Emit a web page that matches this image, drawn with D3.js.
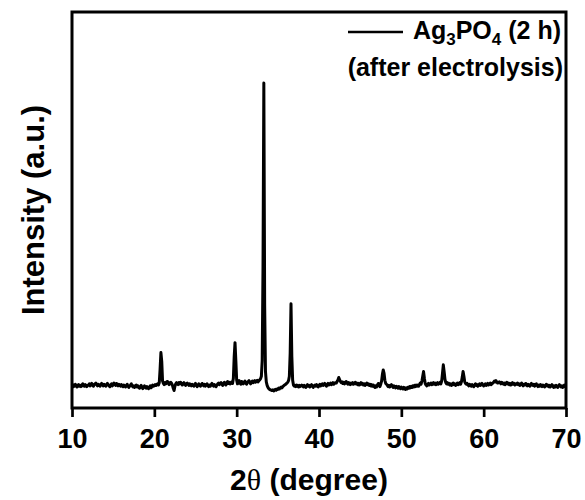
<!DOCTYPE html>
<html>
<head>
<meta charset="utf-8">
<script src="https://cdn.jsdelivr.net/npm/d3@7/dist/d3.min.js"></script>
<style>
  body { margin: 0; background: #fff; }
  svg text { font-family: "Liberation Sans", Arial, sans-serif; font-weight: bold; fill: #000; }
</style>
</head>
<body>
<svg id="chart" width="585" height="500"></svg>
<script>
// XRD scan of Ag3PO4 (2 h) after electrolysis, 10–70° 2θ in 0.1° steps
const scanStart = 10;
const scanStep = 0.1;
const intensity = [
  // 10.0 – 11.9
  56, 59, 54, 57, 60, 55, 53, 57, 59, 55, 57, 54, 58, 61, 56, 55, 59, 57, 54, 57,
  // 12.0 – 13.9
  58, 61, 56, 59, 62, 57, 55, 59, 61, 63, 59, 56, 60, 58, 55, 59, 62, 58, 56, 60,
  // 14.0 – 15.9
  58, 55, 59, 62, 59, 56, 54, 58, 61, 56, 59, 63, 60, 57, 62, 59, 56, 60, 58, 55,
  // 16.0 – 17.9
  59, 56, 54, 58, 55, 53, 57, 60, 55, 52, 55, 58, 61, 56, 53, 56, 52, 55, 58, 53,
  // 18.0 – 19.9
  56, 52, 50, 54, 57, 52, 49, 52, 56, 53, 50, 54, 51, 49, 53, 56, 51, 54, 58, 55,
  // 20.0 – 21.9
  56, 59, 57, 60, 61, 58, 64, 98, 140, 118, 68, 62, 59, 64, 61, 66, 67, 62, 59, 64,
  // 22.0 – 23.9
  65, 62, 57, 50, 44, 55, 61, 64, 62, 59, 64, 61, 65, 62, 58, 61, 64, 60, 57, 61,
  // 24.0 – 25.9
  63, 60, 57, 61, 59, 56, 60, 58, 55, 59, 62, 58, 54, 57, 61, 58, 55, 58, 62, 59,
  // 26.0 – 27.9
  56, 60, 55, 58, 61, 57, 54, 58, 55, 59, 62, 58, 55, 59, 56, 54, 58, 61, 63, 59,
  // 28.0 – 29.9
  62, 64, 60, 57, 62, 65, 61, 58, 63, 67, 62, 65, 61, 63, 66, 62, 75, 130, 165, 120,
  // 30.0 – 31.9
  70, 61, 64, 69, 63, 60, 67, 64, 61, 65, 68, 63, 60, 64, 67, 69, 64, 61, 65, 68,
  // 32.0 – 33.9
  64, 67, 69, 65, 68, 70, 66, 69, 71, 74, 80, 120, 357, 821, 260, 92, 66, 57, 52, 49,
  // 34.0 – 35.9
  47, 46, 45, 44, 46, 43, 45, 47, 45, 48, 47, 50, 48, 51, 53, 51, 54, 56, 58, 59,
  // 36.0 – 37.9
  61, 63, 65, 69, 80, 139, 263, 130, 70, 58, 55, 57, 54, 58, 56, 53, 57, 54, 56, 58,
  // 38.0 – 39.9
  56, 53, 57, 55, 52, 56, 59, 55, 57, 53, 56, 59, 55, 52, 56, 58, 55, 59, 56, 53,
  // 40.0 – 41.9
  57, 60, 56, 58, 61, 57, 59, 62, 58, 55, 59, 62, 58, 60, 63, 59, 61, 64, 60, 62,
  // 42.0 – 43.9
  64, 63, 67, 71, 77, 72, 67, 64, 66, 62, 65, 61, 64, 67, 63, 60, 64, 62, 59, 63,
  // 44.0 – 45.9
  61, 64, 60, 62, 65, 61, 63, 59, 62, 58, 61, 64, 60, 62, 58, 61, 57, 60, 63, 59,
  // 46.0 – 47.9
  61, 57, 60, 56, 59, 55, 58, 54, 52, 56, 53, 58, 62, 57, 54, 60, 68, 85, 96, 88,
  // 48.0 – 49.9
  70, 62, 60, 57, 54, 57, 53, 56, 59, 55, 52, 56, 53, 51, 55, 52, 50, 54, 51, 49,
  // 50.0 – 51.9
  53, 50, 48, 52, 49, 47, 51, 48, 52, 50, 54, 51, 55, 52, 56, 53, 57, 54, 58, 55,
  // 52.0 – 53.9
  58, 55, 59, 63, 60, 68, 80, 92, 75, 62, 58, 56, 59, 62, 58, 60, 63, 59, 61, 64,
  // 54.0 – 55.9
  60, 63, 59, 61, 64, 60, 62, 65, 61, 68, 88, 109, 92, 72, 64, 61, 64, 60, 62, 58,
  // 56.0 – 57.9
  61, 57, 60, 63, 59, 61, 57, 60, 63, 59, 61, 64, 60, 66, 78, 92, 80, 66, 62, 60,
  // 58.0 – 59.9
  62, 58, 56, 60, 57, 55, 59, 56, 54, 58, 61, 57, 59, 55, 58, 61, 57, 59, 62, 58,
  // 60.0 – 61.9
  56, 58, 61, 57, 59, 62, 58, 60, 63, 59, 61, 63, 65, 68, 66, 69, 65, 63, 64, 66,
  // 62.0 – 63.9
  64, 61, 65, 63, 60, 63, 59, 62, 65, 61, 63, 59, 62, 58, 61, 64, 60, 62, 58, 61,
  // 64.0 – 65.9
  60, 63, 59, 61, 57, 60, 63, 59, 56, 60, 58, 62, 59, 56, 60, 58, 55, 59, 62, 58,
  // 66.0 – 67.9
  57, 60, 55, 58, 61, 57, 54, 58, 55, 59, 57, 54, 58, 56, 53, 57, 60, 56, 58, 54,
  // 68.0 – 69.9
  57, 53, 56, 59, 55, 52, 56, 53, 57, 55, 52, 56, 59, 55, 53, 56, 52, 55, 58, 54,
  // 70.0
  56
];

const xTicks = [10, 20, 30, 40, 50, 60, 70];
const xDomain = [10, 70];
const yDomain = [0, 1000];

const svg = d3.select("#chart");
const margin = { left: 72, right: 19, top: 12, bottom: 92 };
const W = 585, H = 500;
const plotW = W - margin.left - margin.right;
const plotH = H - margin.top - margin.bottom;

const x = d3.scaleLinear().domain(xDomain).range([margin.left, margin.left + plotW]);
const y = d3.scaleLinear().domain(yDomain).range([margin.top + plotH, margin.top]);

svg.append("rect").attr("width", W).attr("height", H).attr("fill", "#fff");

// diffraction pattern
const line = d3.line()
  .x((d, i) => x(scanStart + i * scanStep))
  .y(d => y(d));

svg.append("path")
  .datum(intensity)
  .attr("fill", "none")
  .attr("stroke", "#000")
  .attr("stroke-width", 3)
  .attr("stroke-linejoin", "round")
  .attr("d", line);

// bottom axis with outward ticks
const xAxis = svg.append("g")
  .attr("transform", `translate(0,${margin.top + plotH})`)
  .call(d3.axisBottom(x).tickValues(xTicks).tickSize(9).tickSizeOuter(0).tickFormat(d3.format("d")));
xAxis.select(".domain").remove();
xAxis.selectAll(".tick line").attr("stroke", "#000").attr("stroke-width", 2.7);
xAxis.selectAll(".tick text")
  .attr("y", 40).attr("dy", null)
  .style("font-size", "27px")
  .style("font-family", "'Liberation Sans', Arial, sans-serif")
  .style("font-weight", "bold");

// plot frame
svg.append("rect")
  .attr("x", margin.left).attr("y", margin.top)
  .attr("width", plotW).attr("height", plotH)
  .attr("fill", "none").attr("stroke", "#000").attr("stroke-width", 3);

// axis titles
const xt = svg.append("text")
  .attr("x", 309).attr("y", 490)
  .attr("text-anchor", "middle")
  .style("font-size", "30px");
xt.append("tspan").text("2");
xt.append("tspan").style("font-family", "'Liberation Serif', serif").style("font-weight", "normal").text("θ");
xt.append("tspan").text(" (degree)");

svg.append("text")
  .attr("transform", `translate(44,${margin.top + plotH / 2}) rotate(-90)`)
  .attr("text-anchor", "middle")
  .style("font-size", "31px")
  .text("Intensity (a.u.)");

// legend
svg.append("line")
  .attr("x1", 348).attr("x2", 403).attr("y1", 32).attr("y2", 32)
  .attr("stroke", "#000").attr("stroke-width", 2.7);

const lg = svg.append("text")
  .attr("x", 561).attr("y", 39)
  .attr("text-anchor", "end")
  .style("font-size", "25px");
lg.append("tspan").text("Ag");
lg.append("tspan").attr("dy", 6).style("font-size", "17px").text("3");
lg.append("tspan").attr("dy", -6).text("PO");
lg.append("tspan").attr("dy", 6).style("font-size", "17px").text("4");
lg.append("tspan").attr("dy", -6).text(" (2 h)");

svg.append("text")
  .attr("x", 563).attr("y", 76)
  .attr("text-anchor", "end")
  .style("font-size", "25px")
  .text("(after electrolysis)");
</script>
</body>
</html>
